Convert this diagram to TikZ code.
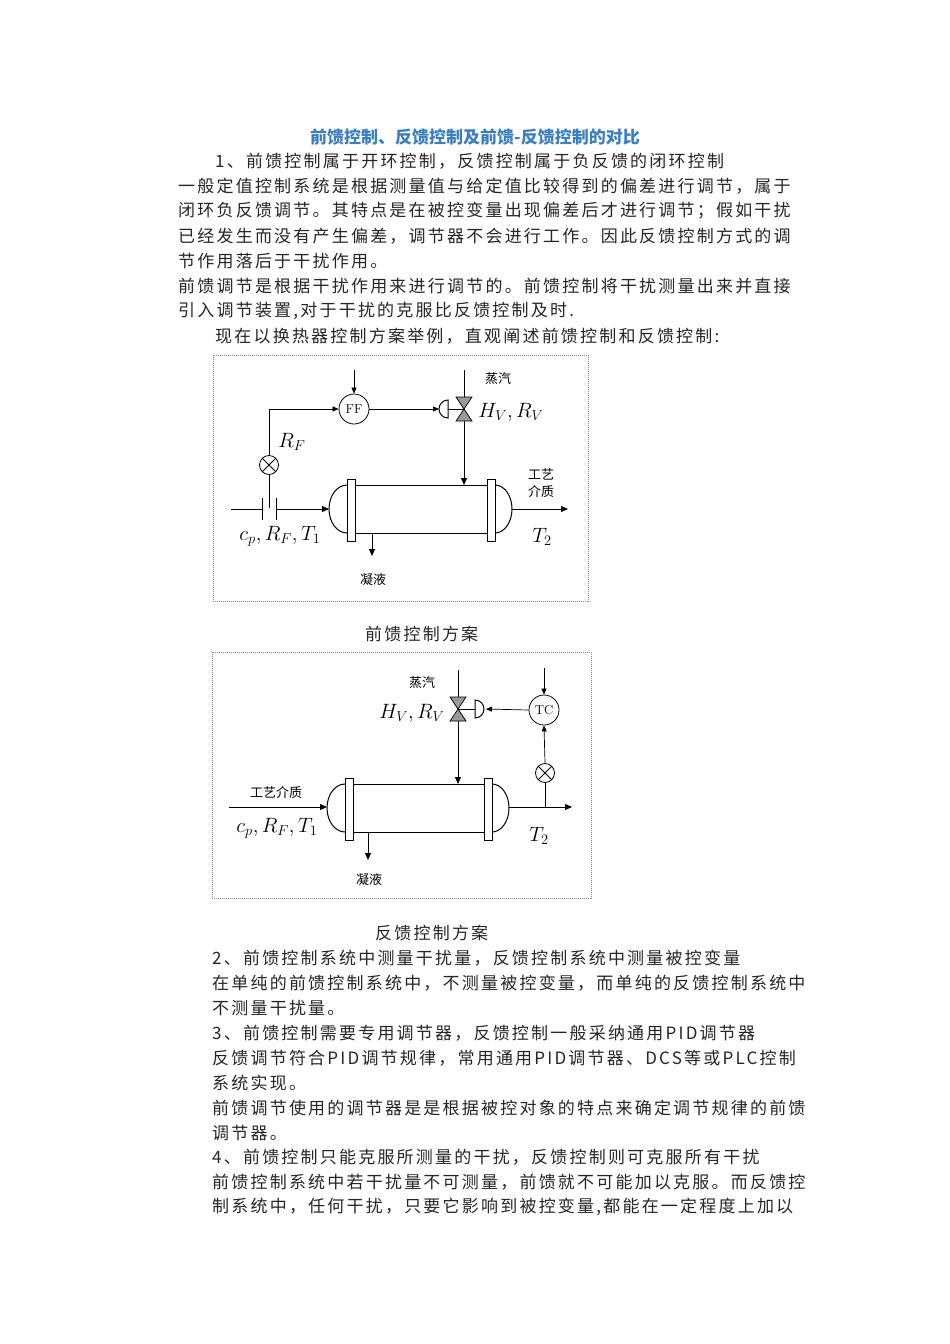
\documentclass[tikz,border=0pt]{standalone}
\usepackage{fontspec}
\newfontfamily\cjk[LetterSpace=13]{Noto Sans CJK SC}
\newfontfamily\cjks{Noto Sans CJK SC}
\usetikzlibrary{arrows.meta}
\definecolor{titleblue}{HTML}{3C7FC0}
\tikzset{
  body/.style={anchor=west,inner sep=0pt,font=\cjk\fontsize{17}{17}\selectfont,text=black!85},
  frame/.style={draw=black!45,densely dotted,line width=1pt},
  pipe/.style={line width=1pt},
  flow/.style={line width=1pt,-{Triangle[length=7pt,width=6pt]}},
  sig/.style={line width=0.7pt,-{Triangle[length=6pt,width=5pt]}},
  ctrl/.style={circle,draw,line width=0.8pt,minimum size=30pt,inner sep=0pt,font=\fontsize{13}{13}\selectfont},
  sensor/.style={circle,draw,line width=0.8pt,minimum size=19pt,inner sep=0pt,path picture={
     \draw[line width=0.8pt] (path picture bounding box.south west)--(path picture bounding box.north east)
       (path picture bounding box.north west)--(path picture bounding box.south east);}},
  lab/.style={inner sep=0pt,font=\cjks\fontsize{13}{13}\selectfont},
  mlab/.style={inner sep=0pt,font=\fontsize{20}{20}\selectfont},
}
\newcommand{\valve}[2]{% center x,y
  \fill[black!40,draw=black,line width=0.7pt] (#1-8,#2-12)--(#1+8,#2-12)--(#1,#2)--cycle;
  \fill[black!40,draw=black,line width=0.7pt] (#1-8,#2+12)--(#1+8,#2+12)--(#1,#2)--cycle;}
\newcommand{\shell}[6]{% x1 flange-left,x2 flange-right,ytop,ybot, yflangetop, yflangebot
  \draw[pipe] (#1+8,#3)--(#2,#3) (#1+8,#4)--(#2,#4);
  \draw[pipe] (#1,#3) arc[start angle=270,end angle=90,x radius=18,y radius={(#4-#3)/2}];
  \draw[pipe] (#2+8,#3) arc[start angle=270,end angle=450,x radius=17,y radius={(#4-#3)/2}];
  \draw[pipe,fill=white] (#1,#5) rectangle (#1+8,#6);
  \draw[pipe,fill=white] (#2,#5) rectangle (#2+8,#6);}
\begin{document}
\begin{tikzpicture}[x=1pt,y=-1pt]
\useasboundingbox[fill=white] (0,0) rectangle (950,1344);
\node[anchor=center,inner sep=0pt,text=titleblue,font=\cjks\bfseries\fontsize{17}{17}\selectfont] (title) at (475,137) {前馈控制、反馈控制及前馈-反馈控制的对比};
\node[body] (l1) at (215,161) {1、前馈控制属于开环控制，反馈控制属于负反馈的闭环控制};
\node[body] (l2) at (178,186) {一般定值控制系统是根据测量值与给定值比较得到的偏差进行调节，属于};
\node[body] (l3) at (178,211) {闭环负反馈调节。其特点是在被控变量出现偏差后才进行调节；假如干扰};
\node[body] (l4) at (178,236) {已经发生而没有产生偏差，调节器不会进行工作。因此反馈控制方式的调};
\node[body] (l5) at (178,261) {节作用落后于干扰作用。};
\node[body] (l6) at (178,286) {前馈调节是根据干扰作用来进行调节的。前馈控制将干扰测量出来并直接};
\node[body] (l7) at (178,311) {引入调节装置,对于干扰的克服比反馈控制及时.};
\node[body] (l8) at (215,336) {现在以换热器控制方案举例，直观阐述前馈控制和反馈控制:};
\node[body] (c1) at (365,634) {前馈控制方案};
\node[body] (c2) at (375,933) {反馈控制方案};
\node[body] (m1) at (212,958) {2、前馈控制系统中测量干扰量，反馈控制系统中测量被控变量};
\node[body] (m2) at (212,983) {在单纯的前馈控制系统中，不测量被控变量，而单纯的反馈控制系统中};
\node[body] (m3) at (212,1008) {不测量干扰量。};
\node[body] (m4) at (212,1033) {3、前馈控制需要专用调节器，反馈控制一般采纳通用PID调节器};
\node[body] (m5) at (212,1058) {反馈调节符合PID调节规律，常用通用PID调节器、DCS等或PLC控制};
\node[body] (m6) at (212,1083) {系统实现。};
\node[body] (m7) at (212,1108) {前馈调节使用的调节器是是根据被控对象的特点来确定调节规律的前馈};
\node[body] (m8) at (212,1133) {调节器。};
\node[body] (m9) at (212,1157) {4、前馈控制只能克服所测量的干扰，反馈控制则可克服所有干扰};
\node[body] (m10) at (212,1182) {前馈控制系统中若干扰量不可测量，前馈就不可能加以克服。而反馈控};
\node[body] (m11) at (212,1207) {制系统中，任何干扰，只要它影响到被控变量,都能在一定程度上加以};

% ---------- diagram 1 ----------
\draw[frame] (213,355) rectangle (588,601);
\node[ctrl] (ff) at (354,409) {FF};
\node[sensor] (s1) at (269,465) {};
\coordinate (ffin) at (354,370);
\draw[sig] (ffin)--(ff.north);
\draw[sig] (s1.north)--(269,409)--(ff.west);
\draw[pipe] (s1.south)--(269,508);
\draw[pipe] (262,498)--(262,520) (276,498)--(276,520);
\draw[pipe] (231,509)--(262,509);
\shell{347}{487}{485}{533}{479}{541}
\draw[flow] (276,509)--(329,509);
\draw[flow] (512,509)--(568,509);
\coordinate (v1) at (464,409);
\draw[pipe] (464,370)--(464,397);
\draw[flow] (464,421)--(464,485);
\valve{464}{409}
\draw[pipe] (448,409)--(v1);
\draw[pipe,fill=white] (448,400) arc[start angle=270,end angle=90,radius=9]--cycle;
\draw[sig] (ff.east)--(439,409);
\draw[flow] (372,533)--(372,556);
\node[lab] (t1) at (498,379) {蒸汽};
\node[mlab] (hv1) at (511,412) {$H_V, R_V$};
\node[mlab] (rf1) at (292,442) {$R_F$};
\node[lab] (gy1) at (541,474) {工艺};
\node[lab] (jz1) at (541,492) {介质};
\node[mlab] (in1) at (280,536) {$c_p, R_F, T_1$};
\node[mlab] (t21) at (542,537) {$T_2$};
\node[lab] (nl1) at (373,580) {凝液};

% ---------- diagram 2 ----------
\draw[frame] (212,652) rectangle (591,898);
\node[ctrl] (tc) at (544,710) {TC};
\node[sensor] (s2) at (545,773) {};
\coordinate (tcin) at (544,668);
\draw[sig] (tcin)--(tc.north);
\shell{345}{484}{784}{832}{778}{840}
\draw[flow] (229,807)--(327,807);
\draw[flow] (509,807)--(572,807);
\draw[pipe] (545,807)--(s2.south);
\draw[sig] (s2.north)--(tc.south);
\coordinate (v2) at (458,709);
\draw[pipe] (458,670)--(458,697);
\draw[flow] (458,721)--(458,784);
\valve{458}{709}
\draw[pipe] (v2)--(475,709);
\draw[pipe,fill=white] (475,700) arc[start angle=270,end angle=450,radius=9]--cycle;
\draw[sig] (tc.west)--(486,709);
\draw[flow] (368,832)--(368,860);
\node[lab] (t2) at (422,683) {蒸汽};
\node[mlab] (hv2) at (412,713) {$H_V, R_V$};
\node[lab] (gy2) at (276,793) {工艺介质};
\node[mlab] (in2) at (277,828) {$c_p, R_F, T_1$};
\node[mlab] (t22) at (539,836) {$T_2$};
\node[lab] (nl2) at (369,880) {凝液};
\end{tikzpicture}
\end{document}
